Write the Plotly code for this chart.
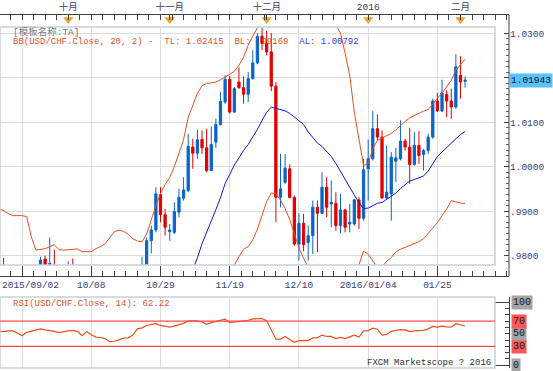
import plotly.graph_objects as go

# ---------------- data ----------------
BAR_INDEX = list(range(5, 107))   # trading-day index; 10/29 = 40

OPEN = [.9735, .9760, .9728, .9752, .9753, .9722, .9680, .9732, .9748, .9768,
        .97926, .9748, .9775, .9712, .9685, .9722, .9770, .9745, .9702, .9625,
        .9688, .9640, .9598, .9585, .9560, .9505, .9515, .9548, .9585, .9595,
        .9655, .9735, .9770, .98338, .98578, .99374, .98923, .98540, .98525, .98976,
        .99291, .99464, 1.00440, 1.00305, 1.00613, 1.00425, .99914, 1.00553, 1.00943, 1.01453,
        1.01964, 1.01228, 1.01904, 1.01776, 1.01626, 1.01979, 1.02332, 1.02930, 1.02770, 1.02580,
        1.01810, .99314, .99652, .99952, .99310, .98263, .98728, .98300, .98450, .99089,
        .98953, .99539, .99164, .99179, .98676, .99028, .98713, .98713, .99254, .98841,
        .99952, 1.00177, 1.00853, 1.00665, .99299, .99389, 1.00125, 1.00177, 1.00575, 1.00440,
        1.00050, 1.00477, 1.00275, 1.00365, 1.00665, 1.01476, 1.01251, 1.01626, 1.01476, 1.01341,
        1.02054, 1.01920]
HIGH = [.9770, .97948, .9768, .9770, .9762, .9735, .9745, .9762, .9775, .97977,
        .9800, .98412, .98135, .9735, .9740, .97872, .97939, .9760, .9715, .9700,
        .9698, .9660, .9625, .9600, .9575, .9530, .9560, .9600, .9615, .9665,
        .9745, .97977, .98412, .98676, .99539, .99539, .99051, .98713, .99201, .99502,
        .99764, 1.00740, 1.00628, 1.00830, 1.00815, 1.00853, 1.00905, 1.01078, 1.01679, 1.02054,
        1.02039, 1.01791, 1.02227, 1.02031, 1.02129, 1.02617, 1.03000, 1.03120, 1.03050, 1.03000,
        1.01900, 1.00290, 1.00290, 1.00050, .99350, .98953, .98938, .98676, .99239, .99239,
        .99877, .99764, .99689, .99426, .99389, .99051, .99164, .99276, .99314, 1.00177,
        1.00605, 1.01251, 1.01176, 1.00815, 1.00477, 1.00327, 1.00425, 1.01041, 1.00628, 1.00875,
        1.00778, 1.00800, 1.00400, 1.00740, 1.01528, 1.01656, 1.01956, 1.01716, 1.01754, 1.02527,
        1.02482, 1.02031]
LOW = [.9715, .9712, .9715, .9735, .9712, .9668, .9672, .9718, .9738, .9750,
       .9740, .9730, .9700, .9670, .9675, .9710, .9735, .9690, .9610, .9615,
       .9625, .9580, .9565, .9540, .9490, .9478, .9500, .9535, .9565, .9590,
       .9645, .9725, .9755, .98053, .98525, .98751, .98450, .98338, .98488, .98863,
       .99239, .99426, .99952, 1.00177, 1.00290, .99877, .99900, 1.00425, 1.00928, 1.01416,
       1.01191, 1.01206, 1.01754, 1.01416, 1.01453, 1.01956, 1.02300, 1.02620, 1.02500, 1.01700,
       .98751, .99089, .99614, .99290, .98225, .97890, .98100, .97888, .98038, .98075,
       .98938, .98863, .98638, .98563, .98503, .98525, .98525, .98676, .98601, .98788,
       .99239, 1.00140, 1.00590, .99276, .99276, .98788, .99652, 1.00140, 1.00365, .99614,
       1.00027, 1.00065, .99914, 1.00290, 1.00628, 1.01228, 1.01228, 1.01116, 1.01078, 1.01303,
       1.01528, 1.01776]
CLOSE = [.9760, .9728, .9752, .9753, .9722, .9680, .9732, .9748, .9768, .97903,
         .9748, .97827, .9712, .9685, .9722, .9760, .9745, .9702, .9625, .9688,
         .9640, .9598, .9585, .9560, .9505, .9515, .9548, .9585, .9595, .9655,
         .9735, .9770, .98338, .98578, .99389, .98923, .98638, .98578, .98991, .99314,
         .99479, 1.00455, 1.00305, 1.00605, 1.00425, .99914, 1.00500, 1.00950, 1.01468, 1.01964,
         1.01228, 1.01754, 1.01776, 1.01626, 1.01979, 1.02332, 1.02930, 1.02770, 1.02580, 1.01810,
         .99314, .99502, .99967, .99310, .98263, .98728, .98248, .98450, .99089, .98953,
         .99539, .99089, .99201, .98676, .99028, .98638, .98751, .99254, .98841, .99929,
         1.00177, 1.00853, 1.00665, .99299, .99426, 1.00215, 1.00200, 1.00575, 1.00440, 1.00050,
         1.00477, 1.00252, 1.00365, 1.00665, 1.01476, 1.01251, 1.01656, 1.01476, 1.01341, 1.02242,
         1.01904, 1.01943]

BB_UPPER = [.9905, .99014, .98946, .98901, .98901, .98901, .98878, .98428, .98124, .98135,
            .98158, .98203, .98248, .98135, .98124, .98135, .98146, .98151, .9809, .9809,
            .9809, .98158, .98203, .9827, .98405, .9854, .98574, .98545, .98484, .98383,
            .98327, .98315, .98489, .98833, .99126, .99396, .99599, .99757, 1.00005, 1.00297,
            1.00613, 1.01108, 1.01401, 1.01649, 1.01818, 1.01874, 1.01885, 1.01901, 1.01953, 1.02009,
            1.02077, 1.02144, 1.02279, 1.02459, 1.0273, 1.02932, 1.03135, 1.0335, 1.0355, 1.0370,
            1.0380, 1.0385, 1.0388, 1.0390, 1.0392, 1.0390, 1.0388, 1.0385, 1.0380, 1.0372,
            1.0362, 1.0350, 1.0338, 1.0320, 1.0300, 1.0255, 1.02054, 1.01221, 1.00658, 1.00027,
            1.00072, 1.0041, 1.0059, 1.00646, 1.00703, 1.00748, 1.00827, 1.00928, 1.01018, 1.01097,
            1.01153, 1.01198, 1.0125, 1.01282, 1.01423, 1.01536, 1.01649, 1.01795, 1.01941, 1.02167,
            1.02291, 1.02415]
BB_MID = [.9702, .9700, .9695, .9690, .9685, .9680, .9675, .9670, .9665, .9660,
          .9655, .9650, .9645, .9640, .9636, .9632, .9628, .9625, .9622, .9620,
          .9618, .9617, .9616, .9616, .9617, .9618, .9620, .9622, .9625, .9628,
          .9632, .9636, .9642, .9648, .9655, .9662, .9670, .9680, .9692, .9705,
          .9720, .9740, .97673, .97955, .9827, .98518, .98766, .99036, .99306, .99622,
          .99824, 1.00038, 1.00196, 1.00365, 1.005, 1.00658, 1.00838, 1.01041, 1.01221, 1.0134,
          1.01311, 1.01288, 1.01255, 1.01198, 1.01108, 1.01029, 1.0095, 1.00782, 1.00658, 1.00534,
          1.00455, 1.00354, 1.0023, 1.00072, .99892, .99689, .9952, .99363, .99194, .99059,
          .9907, .99115, .99178, .99194, .99261, .99329, .99408, .99509, .99599, .99678,
          .99712, .99745, .99791, .99903, 1.00072, 1.0023, 1.00331, 1.00432, 1.00545, 1.00646,
          1.00725, 1.00792]
BB_LOWER = [.9500, .9500, .9496, .9490, .9480, .9470, .9462, .9497, .9518, .9507,
            .9494, .9480, .9465, .9467, .9460, .9451, .9441, .9435, .9435, .9431,
            .9427, .9418, .9412, .9405, .9393, .9382, .9383, .9390, .9402, .9418,
            .9431, .9440, .9435, .9413, .9397, .9384, .9380, .9384, .9384, .9380,
            .9379, .9369, .9395, .9426, .9472, .9516, .9565, .9617, .9666, .9724,
            .9752, .9779, .97977, .98146, .98203, .9836, .98597, .98923, .99216, .99408,
            .99396, .9925, .99059, .98811, .98495, .9818, .97944, .97707, .9750, .9730,
            .9722, .9715, .9712, .9712, .9718, .9728, .9740, .9755, .97797, .98101,
            .98034, .97865, .9773, .97752, .97876, .97955, .9809, .98146, .98189, .98225,
            .98259, .98315, .98383, .98495, .98608, .98743, .98901, .99047, .99239, .99205,
            .99182, .99169]
RSI = [54.0, 53.3, 54.4, 54.4, 51.1, 46.7, 52.2, 53.8, 56.0, 57.7,
       56.0, 55.4, 53.8, 51.6, 53.3, 54.4, 55.4, 53.8, 46.7, 53.3,
       48.4, 44.6, 44.0, 42.3, 37.4, 38.0, 40.2, 42.9, 43.4, 47.8,
       57.7, 59.3, 63.1, 64.8, 65.9, 63.1, 61.5, 60.4, 62.0, 64.3,
       66.4, 70.2, 70.2, 70.2, 68.5, 64.8, 67.5, 69.1, 70.2, 73.0,
       67.5, 68.5, 68.5, 69.7, 71.3, 73.5, 74.1, 74.1, 70.8, 56.0,
       41.3, 41.3, 45.6, 40.7, 36.3, 39.1, 38.5, 39.1, 43.4, 43.4,
       47.8, 45.6, 45.6, 42.3, 44.0, 42.3, 45.0, 47.8, 44.6, 54.4,
       54.9, 58.8, 57.1, 47.8, 48.9, 53.8, 55.4, 56.5, 56.0, 53.3,
       54.4, 54.9, 55.4, 57.7, 61.5, 60.4, 62.0, 60.9, 60.4, 65.9,
       63.7, 62.22]

DATE_TICK_POS = [10, 25, 40, 55, 70, 85, 100]
DATE_TICK_TEXT = ["2015/09/02", "10/08", "10/29", "11/19", "12/10", "2016/01/04", "01/25"]
MONTH_POS = [20, 42, 63, 85, 105]
MONTH_TEXT = ["十月", "十一月", "十二月", "2016", "二月"]
PRICE_TICKS = [0.98, 0.99, 1.00, 1.01, 1.02, 1.03]
PRICE_TICK_TEXT = [".9800", ".9900", "1.0000", "1.0100", "", "1.0300"]
RSI_TICKS = [0, 30, 50, 70, 100]
RSI_LEVELS = [30, 70]

# ---------------- layout geometry ----------------
W, H = 553, 371
PLOT_RIGHT = 495
AXIS_X = 509
BAR_PX = 4.615
REF_I, REF_PX = 40, 160.5


def fx(px):
    return px / W


def fy(py):
    return (H - py) / H


X0 = REF_I - REF_PX / BAR_PX
X1 = REF_I + (PLOT_RIGHT - REF_PX) / BAR_PX
X1_RULER = X0 + AXIS_X / BAR_PX


def price_at(py):
    return 1.03 - (py - 33.2) / 4450.0


RSI_RANGE = [(365.2 - 368) / 0.63, (365.2 - 297) / 0.63]

UP = "#0A64C8"
DN = "#E00000"
BAND = "#E8501E"
MIDC = "#1414E6"
MONO = "Liberation Mono, Noto Sans CJK SC, monospace"
LBL = "#3C3C70"

fig = go.Figure()

fig.add_trace(go.Candlestick(
    x=BAR_INDEX, open=OPEN, high=HIGH, low=LOW, close=CLOSE,
    increasing=dict(line=dict(color=UP, width=1), fillcolor=UP),
    decreasing=dict(line=dict(color=DN, width=1), fillcolor=DN),
    whiskerwidth=0, xaxis="x", yaxis="y", showlegend=False, hoverinfo="skip"))

for series, col in ((BB_UPPER, BAND), (BB_MID, MIDC), (BB_LOWER, BAND)):
    fig.add_trace(go.Scatter(x=BAR_INDEX, y=series, mode="lines",
                             line=dict(color=col, width=1), xaxis="x", yaxis="y",
                             showlegend=False, hoverinfo="skip"))

fig.add_trace(go.Scatter(x=BAR_INDEX, y=RSI, mode="lines",
                         line=dict(color=BAND, width=1.2), xaxis="x2", yaxis="y2",
                         showlegend=False, hoverinfo="skip"))

fig.add_trace(go.Scatter(x=MONTH_POS, y=[0.62] * len(MONTH_POS), mode="markers",
                         marker=dict(symbol="triangle-down", size=9, color="#F2A22A",
                                     line=dict(width=0)),
                         xaxis="x3", yaxis="y3", showlegend=False, hoverinfo="skip",
                         cliponaxis=False))
# invisible trace so the bottom date ruler subplot is drawn
fig.add_trace(go.Scatter(x=[DATE_TICK_POS[0]], y=[0.5], mode="markers",
                         marker=dict(size=1, opacity=0), xaxis="x4", yaxis="y4",
                         showlegend=False, hoverinfo="skip"))

main_dom = [fy(265), fy(27)]
rsi_dom = [fy(368), fy(297)]
xdom = [0, fx(PLOT_RIGHT)]
grid = "#DCDCDC"

fig.update_layout(
    width=W, height=H, margin=dict(l=0, r=0, t=0, b=0),
    paper_bgcolor="white", plot_bgcolor="white",
    boxgap=0.3, showlegend=False,
    font=dict(family=MONO, size=9, color=LBL),
    xaxis=dict(domain=xdom, range=[X0, X1], anchor="y", rangeslider=dict(visible=False),
               tickmode="array", tickvals=DATE_TICK_POS, showticklabels=False, ticks="",
               showgrid=True, gridcolor=grid, gridwidth=1, zeroline=False, showline=False),
    yaxis=dict(domain=main_dom, range=[price_at(265), price_at(27)], anchor="free",
               position=fx(AXIS_X), side="right", tickmode="array", tickvals=PRICE_TICKS,
               ticktext=PRICE_TICK_TEXT, ticks="inside", ticklen=5, tickcolor="#404040",
               minor=dict(ticks="inside", ticklen=3, dtick=0.00125, tick0=0.98,
                          tickcolor="#606060", showgrid=False),
               showgrid=True, gridcolor=grid, gridwidth=1, zeroline=False, showline=False,
               tickfont=dict(family=MONO, size=9.5, color="#3C3C80")),
    xaxis2=dict(domain=xdom, range=[X0, X1], anchor="y2", tickmode="array",
                tickvals=DATE_TICK_POS, showticklabels=False, ticks="", showgrid=True,
                gridcolor=grid, zeroline=False, showline=False),
    yaxis2=dict(domain=rsi_dom, range=RSI_RANGE, anchor="free", position=fx(AXIS_X),
                side="right", tickmode="array", tickvals=[0, 100], showticklabels=False,
                ticks="inside", ticklen=14, tickcolor="#404040",
                minor=dict(ticks="inside", ticklen=4, dtick=10, tick0=0, tickcolor="#404040",
                           showgrid=False),
                showgrid=False, zeroline=False, showline=True, linecolor="#404040"),
    xaxis3=dict(domain=[0, fx(AXIS_X)], range=[X0, X1_RULER], anchor="y3", side="top",
                tickmode="array", tickvals=MONTH_POS, ticktext=MONTH_TEXT, ticks="inside",
                ticklen=5, tickcolor="#404040",
                minor=dict(ticks="inside", ticklen=5, dtick=2.5, tick0=10, tickcolor="#404040"),
                showgrid=False, zeroline=False, showline=True, linecolor="#404040",
                tickfont=dict(family=MONO, size=9.5, color=LBL)),
    yaxis3=dict(domain=[fy(27), fy(15)], range=[0, 1], anchor="x3", visible=False),
    xaxis4=dict(domain=[0, fx(AXIS_X)], range=[X0, X1_RULER], anchor="y4", side="bottom",
                tickmode="array", tickvals=DATE_TICK_POS,
                ticktext=[""] + DATE_TICK_TEXT[1:], ticks="inside", ticklen=10,
                tickcolor="#404040",
                minor=dict(ticks="inside", ticklen=5, dtick=2.5, tick0=10, tickcolor="#404040"),
                showgrid=False, zeroline=False, showline=True, linecolor="#404040",
                tickfont=dict(family=MONO, size=9.5, color=LBL)),
    yaxis4=dict(domain=[fy(276), fy(266)], range=[0, 1], anchor="x4", visible=False),
)

shapes = []
for xr, yr in (("x domain", "y domain"), ("x2 domain", "y2 domain")):
    shapes.append(dict(type="rect", xref=xr, yref=yr, x0=0, x1=1, y0=0, y1=1,
                       line=dict(color="#C6D0DA", width=1.5), layer="above"))
for lv in RSI_LEVELS:
    shapes.append(dict(type="line", xref="x2 domain", yref="y2", x0=0, x1=1, y0=lv, y1=lv,
                       line=dict(color="#FF4A4A", width=1.2)))
shapes.append(dict(type="line", xref="paper", yref="paper", x0=fx(AXIS_X), x1=fx(AXIS_X),
                   y0=fy(276), y1=fy(15), line=dict(color="#404040", width=1)))
fig.update_layout(shapes=shapes)

NB = "\u00a0"
TL = f"{BB_UPPER[-1]:.5f}"
BL = f"{BB_LOWER[-1]:.5f}".lstrip("0")
AL = f"{BB_MID[-1]:.5f}"
bb_text = (f'<span style="color:{BAND}">BB(USD/CHF.Close,{NB}20,{NB}2){NB}-{NB}{NB}TL:{NB}{TL}'
           f'{NB}{NB}BL:{NB}{BL}</span>{NB}{NB}<span style="color:#3636EE">AL:{NB}{AL}</span>')

ann = [
    dict(text="[模板名称:TA]", x=fx(11), y=fy(32), xref="paper", yref="paper",
         xanchor="left", yanchor="middle", showarrow=False,
         font=dict(family=MONO, size=9.5, color="#7A7A7A")),
    dict(text=bb_text, x=fx(11), y=fy(41.5), xref="paper", yref="paper",
         xanchor="left", yanchor="middle", showarrow=False,
         font=dict(family=MONO, size=9, color=BAND)),
    dict(text=f"RSI(USD/CHF.Close,{NB}14):{NB}{RSI[-1]:.2f}", x=fx(11), y=fy(303.5),
         xref="paper", yref="paper", xanchor="left", yanchor="middle", showarrow=False,
         font=dict(family=MONO, size=9, color=BAND)),
    dict(text=f"FXCM{NB}Marketscope{NB}?{NB}2016", x=fx(493), y=fy(362.5), xref="paper",
         yref="paper", xanchor="right", yanchor="middle", showarrow=False,
         font=dict(family=MONO, size=9, color="#303030")),
    dict(text=DATE_TICK_TEXT[0], x=0, y=fy(285), xref="paper", yref="paper",
         xanchor="left", yanchor="middle", showarrow=False,
         font=dict(family=MONO, size=9.5, color=LBL)),
    dict(text=f"{CLOSE[-1]:.5f}", x=fx(AXIS_X), y=CLOSE[-1], xref="paper", yref="y",
         xanchor="left", yanchor="middle", showarrow=False, bgcolor="#58C2F4",
         borderpad=1, font=dict(family=MONO, size=9.5, color="#101040")),
]
for t in RSI_TICKS:
    ann.append(dict(text=str(t), x=fx(AXIS_X + 1.5), y=t, xref="paper", yref="y2",
                    xanchor="left", yanchor="middle", showarrow=False,
                    bgcolor="#FF5656" if t in RSI_LEVELS else "#A4A4A4", borderpad=1,
                    font=dict(family=MONO, size=10, color="#202020")))
fig.update_layout(annotations=ann)

fig.write_html("out.html",
               config={"displayModeBar": False, "staticPlot": True},
               post_script="document.body.style.margin='0px';"
                           "document.body.style.overflow='hidden';")
